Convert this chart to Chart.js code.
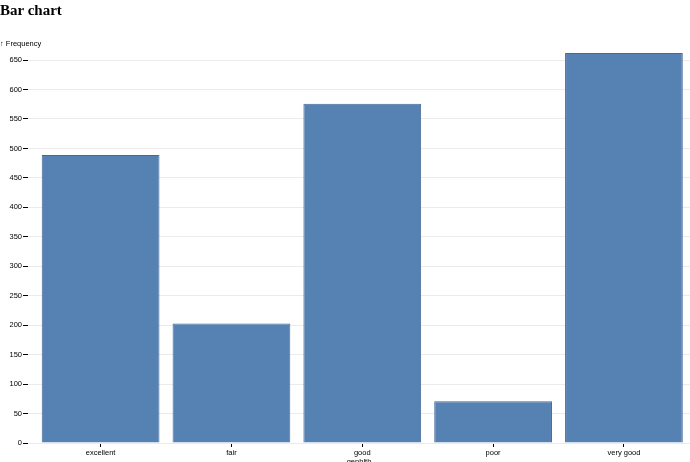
<!DOCTYPE html>
<html lang="en">
<head>
    <meta charset="UTF-8">
    <title>Bar chart</title>
    <script src="https://cdn.jsdelivr.net/npm/chart.js"></script>
</head>
<style>
  html, body { margin: 0; padding: 0; background: #fff; overflow: hidden; }
  #wrap { position: relative; width: 690px; height: 462px; }
  h2 { position: absolute; left: 0; top: 0; margin: 0; font: bold 15px "Liberation Serif", "DejaVu Serif", serif; color: #000; line-height: 20px; }
  canvas { position: absolute; left: 0; top: 0; }
</style>
<body>
<div id="wrap">
  <canvas id="myChart" width="690" height="462"></canvas>
  <h2>Bar chart</h2>
</div>
<script>
// genhlth counts
var categories = ['excellent', 'fair', 'good', 'poor', 'very good'];
var frequency = [489, 203, 576, 71, 662];
var yTicks = [0, 50, 100, 150, 200, 250, 300, 350, 400, 450, 500, 550, 600, 650];

var tickFont = { family: '"Liberation Sans", Arial, sans-serif', size: 7.5 };

var points = [];
for (let i = 0; i < categories.length; i++) {
  points.push({ x: i, y: frequency[i] });
}

// little "↑ Frequency" label over the y axis
var yLabel = {
  id: 'yLabel',
  afterDraw(chart) {
    var c = chart.ctx;
    c.save();
    c.font = '7.5px "Liberation Sans", Arial, sans-serif';
    c.fillStyle = '#000';
    c.textBaseline = 'middle';
    c.textAlign = 'left';
    c.fillText('↑ Frequency', 0, 44);
    c.restore();
  }
};

const ctx = document.getElementById('myChart');
new Chart(ctx, {
  type: 'bar',
  data: {
    datasets: [{
      label: 'Frequency',
      data: points,
      backgroundColor: '#5681b3',
      borderColor: '#46699a',
      borderWidth: 1,
      barPercentage: 0.9,
      categoryPercentage: 1
    }]
  },
  plugins: [yLabel],
  options: {
    responsive: false,
    animation: false,
    layout: { padding: { top: 53, left: 0, right: 0, bottom: 0 } },
    plugins: { legend: { display: false }, tooltip: { enabled: false } },
    scales: {
      x: {
        type: 'linear',
        offset: false,
        min: -0.555,
        max: 4.505,
        afterFit(s) { s.height = 19; },
        afterBuildTicks(s) { s.ticks = categories.map((c, i) => ({ value: i })); },
        ticks: {
          callback: (v) => categories[v],
          font: tickFont,
          color: '#000',
          padding: 1,
          maxRotation: 0,
          autoSkip: false
        },
        grid: { offset: false, drawOnChartArea: false, drawTicks: true, tickLength: 4, tickColor: '#000' },
        border: { display: false },
        title: {
          display: true,
          text: 'genhlth',
          font: tickFont,
          color: '#000',
          padding: { top: 0, bottom: -4 }
        }
      },
      y: {
        min: 0,
        max: Math.max(...frequency),
        afterFit(s) { s.width = 28; },
        afterBuildTicks(s) { s.ticks = yTicks.map(v => ({ value: v })); },
        ticks: { font: tickFont, color: '#000', padding: 1 },
        grid: { color: '#ebebeb', tickColor: '#000', tickLength: 5 },
        border: { display: false }
      }
    }
  }
});
</script>
</body>
</html>
